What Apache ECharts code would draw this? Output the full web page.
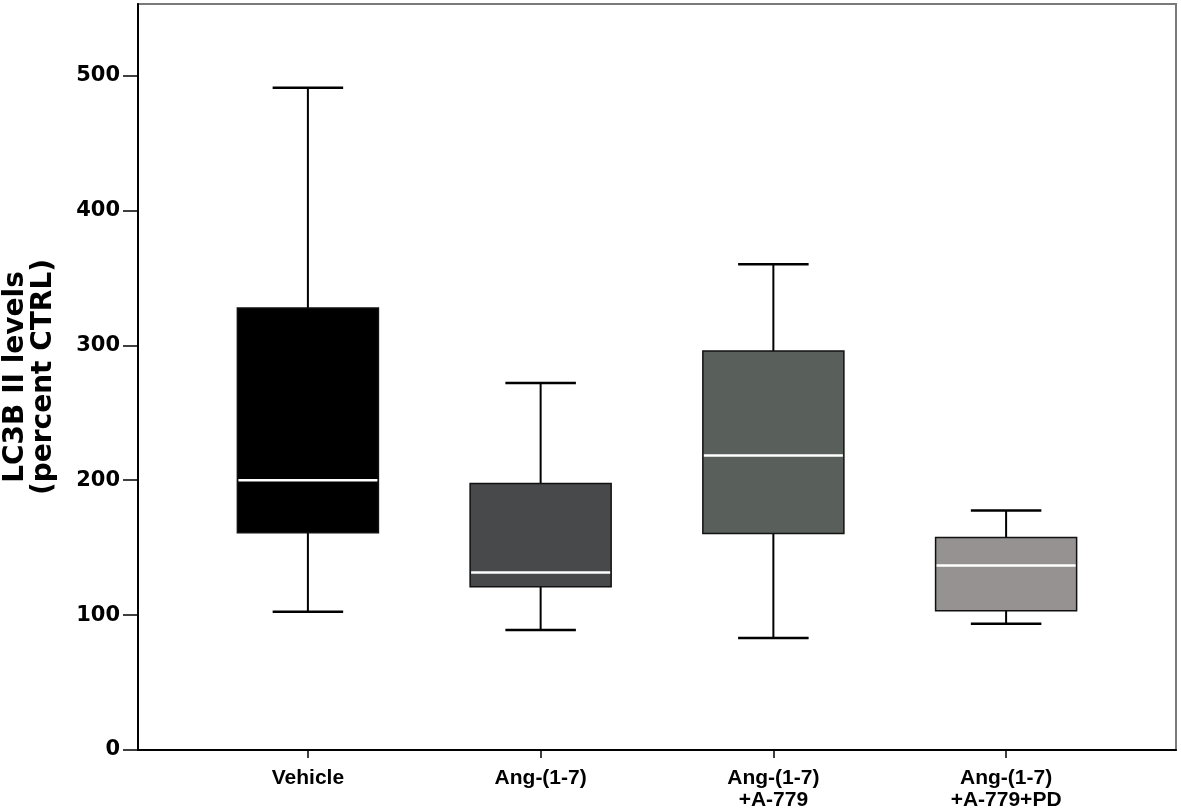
<!DOCTYPE html>
<html>
<head>
<meta charset="utf-8">
<script src="https://cdn.jsdelivr.net/npm/echarts@6/dist/echarts.min.js"></script>
<style>
html,body{margin:0;padding:0;background:#fff;}
#chart{width:1181px;height:811px;}
</style>
</head>
<body>
<div id="chart"></div>
<script>
// Data
const categories = ['Vehicle', 'Ang-(1-7)', 'Ang-(1-7)\n+A-779', 'Ang-(1-7)\n+A-779+PD'];
const whiskerMin = [102.5, 89, 83, 93.6];
const q1 = [161, 121, 160.5, 103.3];
const median = [200, 131.5, 218.4, 136.7];
const q3 = [327.6, 197.6, 295.7, 157.5];
const whiskerMax = [491, 272, 360, 177.6];
const yTicks = [0, 100, 200, 300, 400, 500];

const boxColors = ['#000000', '#47494b', '#59605c', '#969292'];

const seriesData = categories.map((c, i) => [i + 1, whiskerMin[i], q1[i], median[i], q3[i], whiskerMax[i]]);

const chart = echarts.init(document.getElementById('chart'), null, {renderer: 'canvas'});

function renderItem(params, api) {
  const x = api.value(0);
  const pMin = api.coord([x, api.value(1)]);
  const pQ1 = api.coord([x, api.value(2)]);
  const pMed = api.coord([x, api.value(3)]);
  const pQ3 = api.coord([x, api.value(4)]);
  const pMax = api.coord([x, api.value(5)]);
  const halfBox = api.size([0.303, 0])[0];
  const halfCap = halfBox / 2;
  const cx = pMed[0];
  const lineStyle = {stroke: '#000', lineWidth: 2};
  return {
    type: 'group',
    children: [
      {type: 'line', shape: {x1: cx, y1: pMax[1], x2: cx, y2: pQ3[1]}, style: lineStyle},
      {type: 'line', shape: {x1: cx, y1: pQ1[1], x2: cx, y2: pMin[1]}, style: lineStyle},
      {type: 'line', shape: {x1: cx - halfCap, y1: pMax[1], x2: cx + halfCap, y2: pMax[1]}, style: {stroke: '#000', lineWidth: 2.5}},
      {type: 'line', shape: {x1: cx - halfCap, y1: pMin[1], x2: cx + halfCap, y2: pMin[1]}, style: {stroke: '#000', lineWidth: 2.5}},
      {type: 'rect', shape: {x: cx - halfBox, y: pQ3[1], width: halfBox * 2, height: pQ1[1] - pQ3[1]},
        style: {fill: boxColors[params.dataIndex], stroke: '#111', lineWidth: 1.5}},
      {type: 'line', shape: {x1: cx - halfBox + 1, y1: pMed[1], x2: cx + halfBox - 1, y2: pMed[1]}, style: {stroke: '#fff', lineWidth: 2.5}}
    ]
  };
}

const option = {
  backgroundColor: '#fff',
  animation: false,
  grid: {left: 138, right: 5, top: 4, bottom: 61, show: true, borderColor: '#7a7a7a', borderWidth: 2,
    containLabel: false, outerBoundsMode: 'none'},
  xAxis: {
    type: 'value',
    min: 0.27,
    max: 4.73,
    splitLine: {show: false},
    axisLine: {show: true, onZero: false, lineStyle: {color: '#000', width: 2}},
    axisTick: {show: true, customValues: [1, 2, 3, 4], length: 8, lineStyle: {color: '#000', width: 1.5}},
    axisLabel: {
      customValues: [1, 2, 3, 4],
      formatter: function (v) { return categories[Math.round(v) - 1] || ''; },
      color: '#000',
      fontFamily: 'Liberation Sans',
      fontWeight: 'bold',
      fontSize: 21,
      lineHeight: 22,
      margin: 17
    }
  },
  yAxis: {
    type: 'value',
    min: 0,
    max: 553,
    interval: 100,
    name: 'LC3B II levels\n(percent CTRL)',
    nameLocation: 'middle',
    nameGap: 80,
    nameTextStyle: {color: '#000', fontFamily: 'DejaVu Sans', fontWeight: 'bold', fontSize: 28, lineHeight: 28},
    splitLine: {show: false},
    axisLine: {show: true, lineStyle: {color: '#000', width: 2}},
    axisTick: {show: true, customValues: yTicks, length: 15, lineStyle: {color: '#000', width: 1.5}},
    axisLabel: {
      customValues: yTicks,
      color: '#000',
      fontFamily: 'DejaVu Sans',
      fontWeight: 'bold',
      fontSize: 21,
      margin: 18
    }
  },
  series: [{
    type: 'custom',
    renderItem: renderItem,
    encode: {x: 0, y: [1, 2, 3, 4, 5]},
    data: seriesData
  }]
};
chart.setOption(option);
</script>
</body>
</html>
